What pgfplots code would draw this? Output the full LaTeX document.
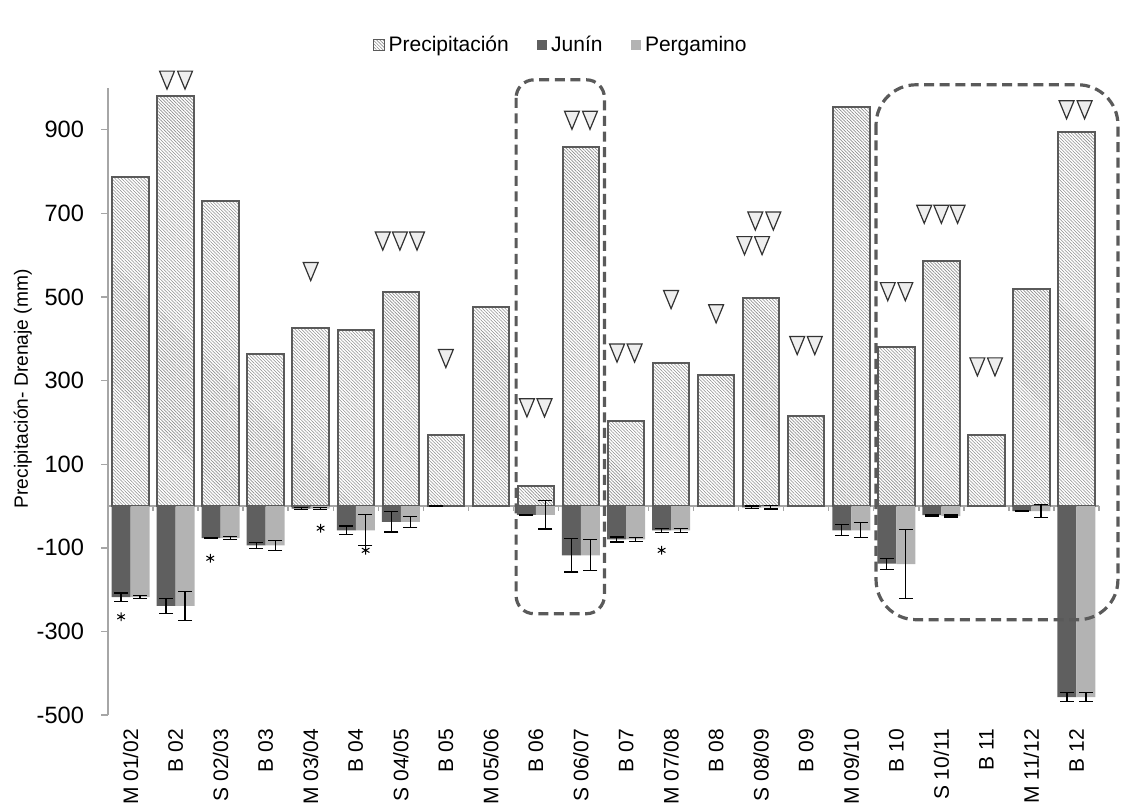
\documentclass[border=0pt]{standalone}
\usepackage{fontspec}
\setmainfont{Liberation Sans}
\usepackage{pgfplots}
\pgfplotsset{compat=1.18}
\usepackage{pgfplotstable}
\usetikzlibrary{patterns.meta}
\definecolor{jun}{HTML}{5F5F5F}
\definecolor{per}{HTML}{B3B3B3}
\definecolor{edge}{HTML}{5A5A5A}
\definecolor{hatch}{HTML}{8E8E8E}
\definecolor{axisgray}{HTML}{A6A6A6}
\definecolor{trifill}{HTML}{EEEEEE}
\definecolor{boxc}{HTML}{5A5A5A}

\pgfplotsset{
  sqlegend/.style={legend image code/.code={\draw[##1, line width=0.5pt] (0pt,-2.6pt) rectangle (5.2pt,2.6pt);}},
  filllegend/.style={legend image code/.code={\fill[##1] (0pt,-2.6pt) rectangle (5.2pt,2.6pt);}},
}

\pgfplotstableread{
x  p    j     je   g     ge
0  786  -218  10   -218  3
1  980  -239  18   -239  34
2  730  -77   1    -77   3.6
3  363  -94   7    -94   12
4  425  -6    3    -6    3
5  422  -58   10   -58   37
6  513  -38   24   -38   13
7  171  -1    1    nan   nan
8  477  nan   nan  nan   nan
9  47   -21   1    -21   34
10 858  -118  40   -118  37
11 204  -80   6    -80   5
12 342  -58   5    -58   5
13 313  nan   nan  nan   nan
14 497  -3    3    -3    4
15 215  nan   nan  nan   nan
16 954  -58   13   -58   18
17 381  -138  13   -139  83
18 585  -22   2    -24   2.5
19 171  nan   nan  nan   nan
20 518  -12   1    -12   16
21 894  -457  11   -457  11
}\datatable

\begin{document}
\begin{tikzpicture}
\begin{axis}[
  scale only axis, width=495.5pt, height=313.5pt,
  xmin=-0.5, xmax=21.5, ymin=-500, ymax=1000,
  clip=false,
  axis lines*=left,
  x axis line style={draw=none},
  y axis line style={axisgray, line width=0.7pt},
  tick align=outside,
  major tick length=3.5pt,
  xtick={0,...,21},
  xticklabels={M 01/02, B 02, S 02/03, B 03, M 03/04, B 04, S 04/05, B 05, M 05/06, B 06, S 06/07, B 07, M 07/08, B 08, S 08/09, B 09, M 09/10, B 10, S 10/11, B 11, M 11/12, B 12},
  major x tick style={draw=none},
  x tick label style={rotate=90, anchor=east, font=\fontsize{10.5}{12}\selectfont},
  ytick={-500,-300,...,900},
  major y tick style={axisgray, line width=0.7pt},
  y tick label style={xshift=-5pt, font=\fontsize{11.8}{13}\selectfont},
  /pgf/number format/assume math mode=true,
  ylabel={Precipitación- Drenaje (mm)},
  y label style={at={(axis description cs:-0.086,0.52)}, anchor=center, font=\fontsize{9.6}{11}\selectfont},
  legend style={at={(axis description cs:0.458,1.0686)}, anchor=center, draw=none, legend columns=3,
    font=\fontsize{10.5}{12}\selectfont,
    /tikz/every even column/.append style={column sep=12pt}},
]
\draw[axisgray, line width=0.7pt] (axis cs:-0.5,0) -- (axis cs:21.5,0);
\pgfplotsinvokeforeach{-0.5,0.5,...,21.5}{\draw[axisgray, line width=0.7pt] (axis cs:#1,0) -- ([yshift=-2.5pt]axis cs:#1,0);}

\addplot[ybar, bar width=18.25pt, bar shift=0pt, draw=edge, line width=1pt,
  pattern={Lines[angle=-45,distance=1.15pt,line width=0.3pt]}, pattern color=hatch, sqlegend]
  table[x=x, y=p]{\datatable};
\addlegendentry{Precipitación}

\addplot[ybar, bar width=9.5pt, bar shift=0pt, fill=jun, draw=none, filllegend,
  error bars/.cd, y dir=both, y explicit,
  error bar style={black, line width=0.6pt},
  error mark options={rotate=90, black, mark size=3.5pt, line width=0.6pt}]
  table[x expr=\thisrow{x}-0.2109, y=j, y error=je]{\datatable};
\addlegendentry{Junín}

\addplot[ybar, bar width=9.5pt, bar shift=0pt, fill=per, draw=none, filllegend,
  error bars/.cd, y dir=both, y explicit,
  error bar style={black, line width=0.6pt},
  error mark options={rotate=90, black, mark size=3.5pt, line width=0.6pt}]
  table[x expr=\thisrow{x}+0.2109, y=g, y error=ge]{\datatable};
\addlegendentry{Pergamino}

% significance triangles
\addplot[only marks, forget plot, mark=triangle*, mark size=4.3pt,
  mark options={rotate=180, yscale=1.4, fill=trifill, draw=black!80, line width=0.6pt}]
  coordinates {
  (0.81,1026) (1.21,1026)
  (4,568)
  (5.6,641) (5.98,641) (6.36,641)
  (7,360)
  (8.8,242) (9.19,242)
  (9.8,930) (10.2,930)
  (10.8,373) (11.19,373)
  (12,501)
  (13,467)
  (13.87,689) (14.27,689)
  (13.63,630) (14.02,630)
  (14.8,391) (15.19,391)
  (16.81,520) (17.2,520)
  (17.62,705) (18,705) (18.36,705)
  (18.8,340) (19.19,340)
  (20.78,955) (21.18,955)
  };

% asterisks
\addplot[only marks, forget plot, mark=asterisk, mark size=2.2pt, mark options={black, line width=0.5pt}]
  coordinates {(-0.21,-265) (1.77,-125) (4.22,-53) (5.22,-106) (11.79,-106)};

% dashed highlight boxes
\draw[boxc, line width=1.6pt, dash pattern=on 5pt off 2.8pt, rounded corners=9pt]
  (axis cs:8.56,1019.6) rectangle (axis cs:10.52,-257.7);
\draw[boxc, line width=1.6pt, dash pattern=on 5pt off 2.8pt, rounded corners=20pt]
  (axis cs:16.55,1007.7) rectangle (axis cs:21.92,-272);
\end{axis}
\path[use as bounding box] ([xshift=-54pt,yshift=-43pt]current axis.south west) rectangle ([xshift=11pt,yshift=44pt]current axis.north east);
\end{tikzpicture}
\end{document}
